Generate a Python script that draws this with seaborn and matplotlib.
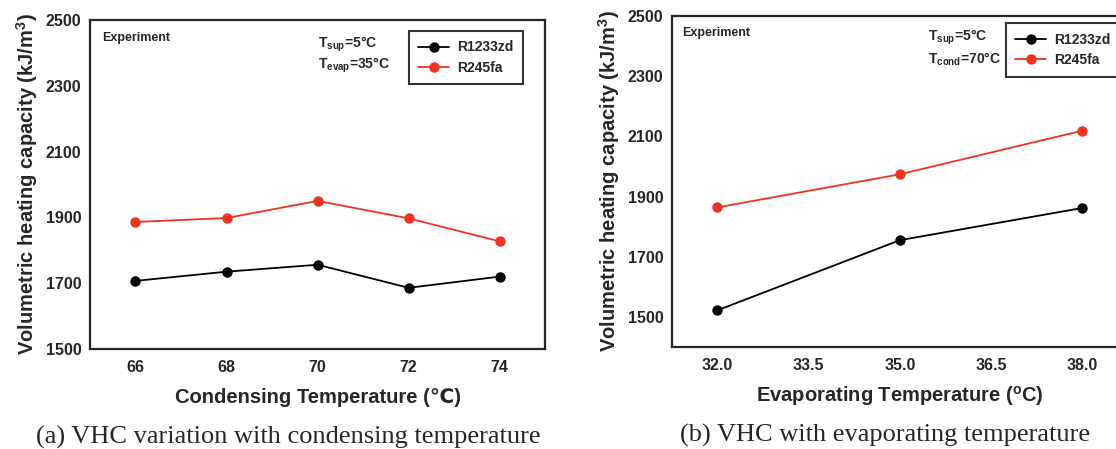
import numpy as np
import pandas as pd
import matplotlib
matplotlib.use("Agg")
import matplotlib.pyplot as plt
import matplotlib.ticker as ticker
import seaborn as sns

# (a) condensing temperature sweep
cond_temp = [66, 68, 70, 72, 74]
cond_r1233zd = [1707, 1735, 1756, 1686, 1720]
cond_r245fa = [1886, 1898, 1950, 1897, 1827]

# (b) evaporating temperature sweep
evap_temp = [32.0, 35.0, 38.0]
evap_r1233zd = [1522, 1755, 1862]
evap_r245fa = [1864, 1974, 2119]

y_ticks = [1500, 1700, 1900, 2100, 2300, 2500]
evap_ticks = [32.0, 33.5, 35.0, 36.5, 38.0]

refrigerants = ["R1233zd", "R245fa"]
palette = {"R1233zd": "black", "R245fa": "#ee3322"}


def to_long(temps, a, b):
    df = pd.DataFrame({"T": temps, "R1233zd": a, "R245fa": b})
    return df.melt(id_vars="T", var_name="refrigerant", value_name="vhc")


def style_axes(ax):
    for s in ax.spines.values():
        s.set_linewidth(1.6)
    ax.tick_params(which="major", direction="in", length=6, width=1.3, labelsize=11.5, pad=8)
    ax.tick_params(which="minor", direction="in", length=3, width=1.1)
    for lab in ax.get_xticklabels() + ax.get_yticklabels():
        lab.set_fontweight("bold")
    ax.tick_params(axis="y", which="major", pad=6)
    ax.set_ylabel("Volumetric heating capacity (kJ/m$^\\mathbf{3}$)", fontsize=14.5,
                  fontweight="bold", labelpad=4)


def add_legend(ax, anchor, loc):
    leg = ax.legend(loc=loc, bbox_to_anchor=anchor, fontsize=10, frameon=True,
                    fancybox=False, edgecolor="black", handlelength=2.2, borderpad=0.7,
                    labelspacing=0.45, handletextpad=0.6, borderaxespad=0)
    leg.get_frame().set_linewidth(1.5)
    for t in leg.get_texts():
        t.set_fontweight("bold")


sns.set_style("white")
plt.rcParams["font.family"] = ["Liberation Sans", "DejaVu Sans"]
plt.rcParams["mathtext.fontset"] = "custom"
plt.rcParams["mathtext.bf"] = "Liberation Sans:bold"
plt.rcParams["mathtext.rm"] = "Liberation Sans"
plt.rcParams["mathtext.it"] = "Liberation Sans:bold"

fig = plt.figure(figsize=(11.16, 4.49), dpi=100)
ax1 = fig.add_axes([0.0806, 0.2227, 0.408, 0.733])
ax2 = fig.add_axes([0.602, 0.2272, 0.4086, 0.737])

# panel a
sns.lineplot(data=to_long(cond_temp, cond_r1233zd, cond_r245fa), x="T", y="vhc",
             hue="refrigerant", hue_order=refrigerants, palette=palette,
             marker="o", markersize=7.5, markeredgewidth=0, linewidth=1.3, ax=ax1)
ax1.set_xticks(cond_temp)
ax1.set_xticks([65, 67, 69, 71, 73, 75], minor=True)
ax1.set_yticks(y_ticks)
ax1.set_yticks([1600, 1800, 2000, 2200, 2400], minor=True)
ax1.set_xlim(65, 75)
ax1.set_ylim(1500, 2500)
ax1.set_xlabel("Condensing Temperature (\u2103)", fontsize=14.5, fontweight="bold", labelpad=9)
style_axes(ax1)
ax1.text(0.027, 0.945, "Experiment", transform=ax1.transAxes, fontsize=9, fontweight="bold", va="center")
ax1.text(0.50, 0.925, "T$_{sup}$=5\u00b0C", transform=ax1.transAxes, fontsize=10, fontweight="bold", va="center")
ax1.text(0.50, 0.862, "T$_{evap}$=35\u00b0C", transform=ax1.transAxes, fontsize=10, fontweight="bold", va="center")
add_legend(ax1, (0.952, 0.967), "upper right")

# panel b
sns.lineplot(data=to_long(evap_temp, evap_r1233zd, evap_r245fa), x="T", y="vhc",
             hue="refrigerant", hue_order=refrigerants, palette=palette,
             marker="o", markersize=7.5, markeredgewidth=0, linewidth=1.3, ax=ax2)
ax2.set_xticks(evap_ticks)
ax2.set_xticks([31.25, 32.75, 34.25, 35.75, 37.25, 38.75], minor=True)
ax2.xaxis.set_major_formatter(ticker.FormatStrFormatter("%.1f"))
ax2.set_yticks(y_ticks)
ax2.set_yticks([1400, 1600, 1800, 2000, 2200, 2400], minor=True)
ax2.set_xlim(31.25, 38.75)
ax2.set_ylim(1400, 2500)
ax2.set_xlabel("Evaporating Temperature ($^\\mathbf{o}$C)", fontsize=14.5, fontweight="bold", labelpad=8)
style_axes(ax2)
ax2.text(0.023, 0.949, "Experiment", transform=ax2.transAxes, fontsize=9, fontweight="bold", va="center")
ax2.text(0.561, 0.937, "T$_{sup}$=5\u00b0C", transform=ax2.transAxes, fontsize=10, fontweight="bold", va="center")
ax2.text(0.561, 0.870, "T$_{cond}$=70\u00b0C", transform=ax2.transAxes, fontsize=10, fontweight="bold", va="center")
add_legend(ax2, (0.732, 0.979), "upper left")

fig.text(0.2585, 1 - 437 / 449, "(a) VHC variation with condensing temperature", ha="center",
         va="center", fontsize=19, family="Liberation Serif")
fig.text(0.793, 1 - 435 / 449, "(b) VHC with evaporating temperature", ha="center",
         va="center", fontsize=19, family="Liberation Serif")

fig.savefig("out.png", dpi=100)
